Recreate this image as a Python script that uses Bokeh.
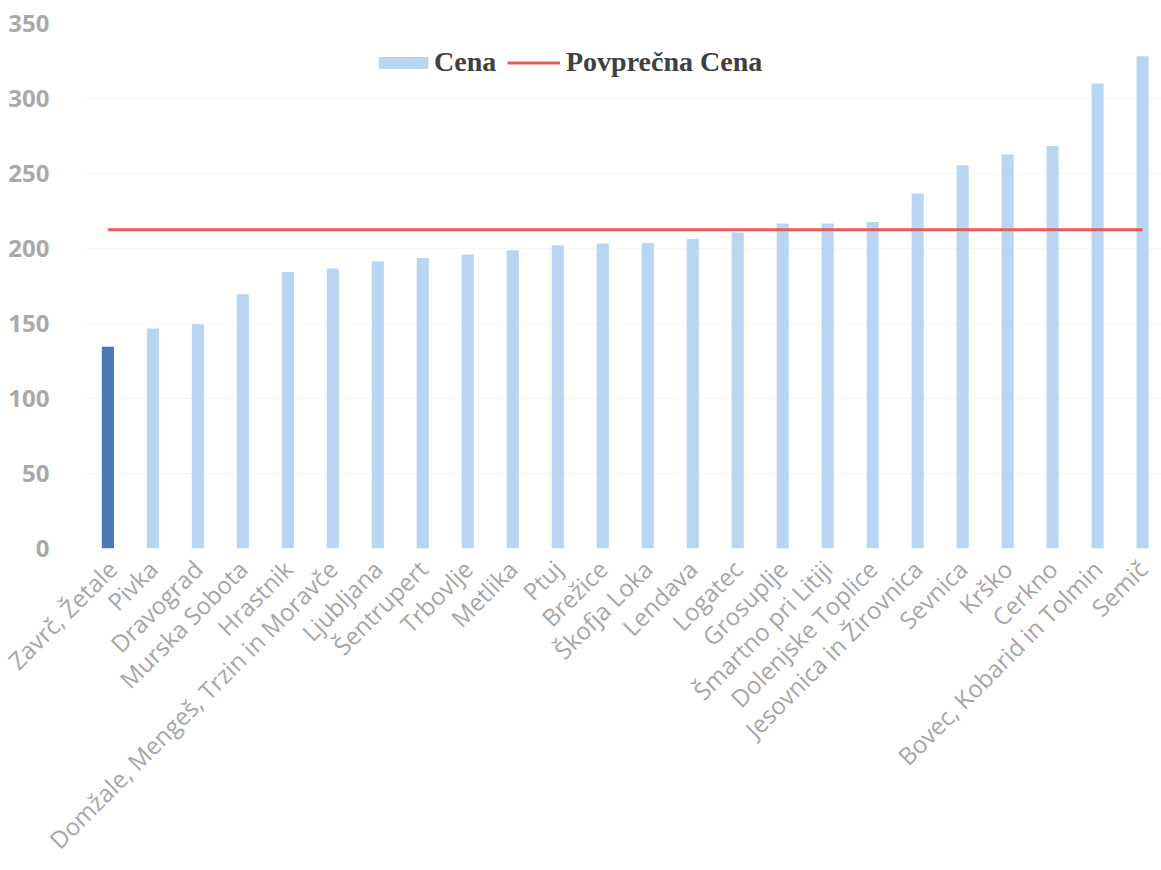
from bokeh.plotting import figure
from bokeh.models import Range1d, FixedTicker, Legend, LegendItem, ColumnDataSource
from bokeh.embed import file_html
from bokeh.resources import INLINE
import math

# ---- data ----
categories = ["Zavrč, Žetale", "Pivka", "Dravograd", "Murska Sobota", "Hrastnik",
              "Domžale, Mengeš, Trzin in Moravče", "Ljubljana", "Šentrupert", "Trbovlje",
              "Metlika", "Ptuj", "Brežice", "Škofja Loka", "Lendava", "Logatec", "Grosuplje",
              "Šmartno pri Litiji", "Dolenjske Toplice", "Jesovnica in Žirovnica", "Sevnica",
              "Krško", "Cerkno", "Bovec, Kobarid in Tolmin", "Semič"]
cena = [134.5, 146.7, 149.5, 169.5, 184.4, 186.7, 191.5, 193.7, 196.0, 198.9, 202.2, 203.3,
        203.7, 206.4, 210.7, 216.7, 216.7, 217.7, 236.7, 255.5, 262.7, 268.4, 310.0, 328.2]
povprecna_cena = 212.5
y_ticks = [0, 50, 100, 150, 200, 250, 300, 350]

LIGHT = "#b8d6f2"
DARK = "#4a79b6"
RED = "#ec5a55"
n = len(categories)
xs = list(range(n))
colors = [DARK if i == 0 else LIGHT for i in range(n)]

src = ColumnDataSource(dict(x=xs, top=cena, color=colors, avg=[povprecna_cena] * n))

p = figure(x_range=Range1d(-0.52, n - 0.58),
           y_range=Range1d(0, 350),
           width=1161, height=870, output_backend="svg", toolbar_location=None,
           min_border_left=84, min_border_right=0, min_border_top=23, min_border_bottom=322)
p.outline_line_color = None
p.background_fill_color = "white"
p.border_fill_color = "white"

bars = p.vbar(x="x", top="top", width=0.27, fill_color="color", line_color=None, source=src)
avg_line = p.line(x="x", y="avg", line_color=RED, line_width=3, source=src)

p.xgrid.grid_line_color = None
p.ygrid.grid_line_color = "#f5f5f5"
p.yaxis.ticker = FixedTicker(ticks=y_ticks)
p.xaxis.ticker = FixedTicker(ticks=xs)
p.xaxis.major_label_overrides = {i: c for i, c in enumerate(categories)}

for ax in (p.xaxis, p.yaxis):
    ax.axis_line_color = None
    ax.major_tick_line_color = None
    ax.minor_tick_line_color = None

p.yaxis.major_label_text_font = "Open Sans"
p.yaxis.major_label_text_font_size = "24px"
p.yaxis.major_label_text_font_style = "bold"
p.yaxis.major_label_text_color = "#a9a9a9"
p.yaxis.major_label_standoff = 29

p.xaxis.major_label_text_font = "Open Sans"
p.xaxis.major_label_text_font_size = "24px"
p.xaxis.major_label_text_color = "#a6a6a6"
p.xaxis.major_label_orientation = math.pi / 4
p.xaxis.major_label_standoff = 10

common = dict(orientation="horizontal", glyph_height=15, padding=0, margin=0,
              border_line_color=None, background_fill_alpha=0,
              label_text_font="Liberation Serif", label_text_font_style="bold",
              label_text_font_size="28px", label_text_color="#404040")
legend_bar = Legend(items=[LegendItem(label="Cena", renderers=[bars], index=1)],
                    location=(288, 470), glyph_width=62, label_standoff=0, **common)
legend_line = Legend(items=[LegendItem(label="Povprečna Cena", renderers=[avg_line])],
                     location=(423, 470), glyph_width=53, label_standoff=6, **common)
p.add_layout(legend_bar)
p.add_layout(legend_line)

open("out.html", "w").write(file_html(p, INLINE))
